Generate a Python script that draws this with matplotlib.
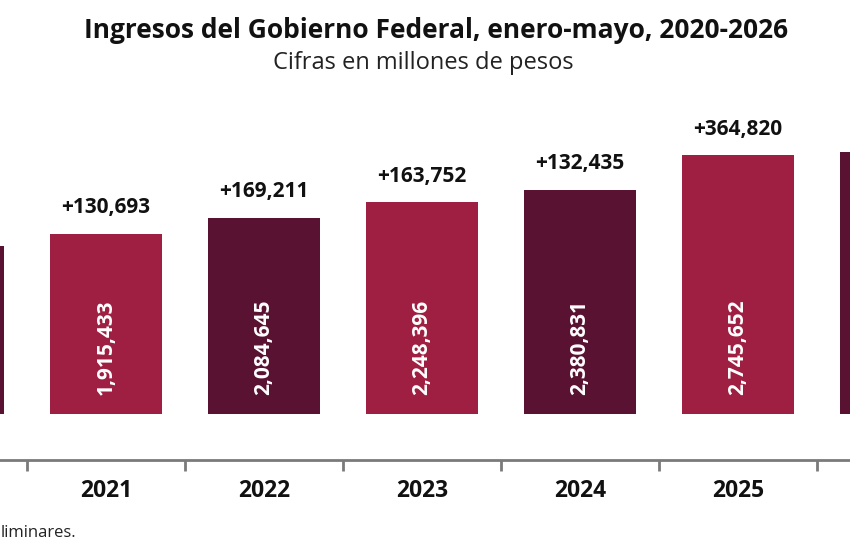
import matplotlib
matplotlib.use("Agg")
from matplotlib import pyplot as plt

plt.rcParams["font.family"] = ["Open Sans", "DejaVu Sans"]

# Data (millones de pesos); 2020 and 2026 are only partly visible in the crop
years = ["2020", "2021", "2022", "2023", "2024", "2025", "2026"]
ingresos = [1784740, 1915433, 2084645, 2248396, 2380831, 2745652, 2780000]
cambio = ["", "+130,693", "+169,211", "+163,752", "+132,435", "+364,820", ""]
labels = ["", "1,915,433", "2,084,645", "2,248,396", "2,380,831", "2,745,652", ""]
year_labels = ["", "2021", "2022", "2023", "2024", "2025", ""]

red = "#9E1F41"
dark = "#5A1232"
colors = [dark, red, dark, red, dark, red, dark]

fig = plt.figure(figsize=(8.5, 5.5), dpi=100)
# axes spans full width; the reference is a crop of a wider chart
ax = fig.add_axes([0, 1 - 460 / 550, 1, 360 / 550])

x = list(range(len(years)))
ax.bar(x, ingresos, width=0.71, color=colors, zorder=2)

# baseline axis with separators between years
for s in ["top", "right", "left"]:
    ax.spines[s].set_visible(False)
ax.spines["bottom"].set_color("#7a7a7a")
ax.spines["bottom"].set_linewidth(2)
ax.set_xticks([i + 0.5 for i in x])
ax.set_xticklabels([])
ax.tick_params(axis="x", length=8, width=2, color="#7a7a7a", direction="out")
ax.set_yticks([])

ax.set_xlim(52 / 158, 902 / 158)
ax.set_ylim(-488000, 3333000)

for i in x:
    if cambio[i]:
        ax.annotate(cambio[i], (i, ingresos[i]), xytext=(0, 11), textcoords="offset points",
                    ha="center", va="bottom", fontsize=15, fontweight="bold", color="#111111")
    if labels[i]:
        ax.text(i, 710000, labels[i], rotation=90, ha="center", va="center",
                fontsize=15, fontweight="bold", color="white")
    if year_labels[i]:
        ax.annotate(year_labels[i], (i, -488000), xytext=(0, -22), textcoords="offset points",
                    ha="center", va="center", fontsize=16.5, fontweight="bold", color="#111111")

fig.text(436 / 850, 1 - 30 / 550, "Ingresos del Gobierno Federal, enero-mayo, 2020-2026",
         ha="center", va="center", fontsize=19, fontweight="bold", color="#111111")
fig.text(423 / 850, 1 - 63 / 550, "Cifras en millones de pesos",
         ha="center", va="center", fontsize=17, color="#222222")
fig.text(0.5 / 850, 1 - 533 / 550, "liminares.", ha="left", va="center",
         fontsize=12, color="#222222")

fig.savefig("out.png", dpi=100)
